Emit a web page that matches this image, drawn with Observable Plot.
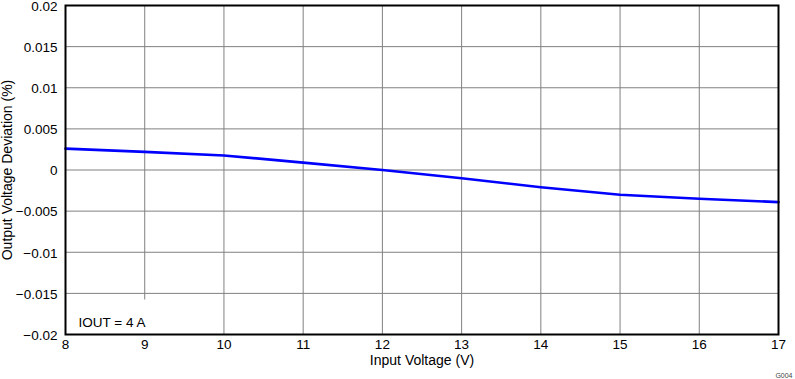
<!DOCTYPE html>
<html><head><meta charset="utf-8">
<script src="https://cdn.jsdelivr.net/npm/d3@7"></script>
<script src="https://cdn.jsdelivr.net/npm/@observablehq/plot@0.6"></script>
<style>
body{margin:0;background:#fff}
svg{font-family:"Liberation Sans",Arial,sans-serif}
</style>
</head><body><div id="chart"></div>
<script>
const inputVoltage = [8, 9, 10, 11, 12, 13, 14, 15, 16, 17];
const deviation = [0.0026, 0.0022, 0.00177, 0.0009, 0.0, -0.001, -0.0021, -0.0030, -0.0035, -0.0039];
const xTicks = [8, 9, 10, 11, 12, 13, 14, 15, 16, 17];
const yTicks = [-0.02, -0.015, -0.01, -0.005, 0, 0.005, 0.01, 0.015, 0.02];
const xLabel = "Input Voltage (V)";
const yLabel = "Output Voltage Deviation (%)";
const legendLabel = "IOUT = 4 A";
const legendBox = [{x1: 8, x2: 9.6, y1: -0.02, y2: -0.0158}];
const figId = "G004";

const data = inputVoltage.map((v, i) => ({v, d: deviation[i]}));
const fmt = d => String(+d.toFixed(3)).replace("-", "\u2212");

const chart = Plot.plot({
  width: 795,
  height: 379,
  marginLeft: 65,
  marginRight: 17,
  marginTop: 5,
  marginBottom: 45,
  style: {fontSize: "13px", fontFamily: "'Liberation Sans', Arial, sans-serif", color: "#000", background: "#fff", overflow: "visible"},
  x: {domain: [8, 17], ticks: xTicks},
  y: {domain: [-0.02, 0.02], ticks: yTicks},
  marks: [
    Plot.gridX(xTicks, {stroke: "#808080", strokeOpacity: 1, strokeWidth: 1}),
    Plot.gridY(yTicks, {stroke: "#808080", strokeOpacity: 1, strokeWidth: 1}),
    Plot.rect(legendBox, {x1: "x1", x2: "x2", y1: "y1", y2: "y2", fill: "white", inset: 0}),
    Plot.axisX(xTicks, {tickSize: 0, tickPadding: 5, tickFormat: d => String(d), label: null, fontSize: 13.5}),
    Plot.axisY(yTicks, {tickSize: 0, tickPadding: 8, tickFormat: fmt, label: null, fontSize: 13.5, dy: 1}),
    Plot.line(data, {x: "v", y: "d", stroke: "#0000ff", strokeWidth: 2.6}),
    Plot.frame({stroke: "black", strokeWidth: 2}),
    Plot.text([legendLabel], {frameAnchor: "bottom-left", text: d => d, dx: 13, dy: -8, fontSize: 13.5, textAnchor: "start", lineAnchor: "bottom"}),
    Plot.text([xLabel], {frameAnchor: "bottom", text: d => d, dy: 30, fontSize: 14, lineAnchor: "bottom"}),
    Plot.text([yLabel], {frameAnchor: "left", text: d => d, dx: -58, rotate: -90, fontSize: 14, textAnchor: "middle", lineAnchor: "middle"}),
    Plot.text([figId], {frameAnchor: "bottom-right", text: d => d, dx: 14, dy: 43, fontSize: 7, textAnchor: "end", lineAnchor: "bottom", fill: "#444"})
  ]
});
document.getElementById("chart").appendChild(chart);
</script>
</body></html>
